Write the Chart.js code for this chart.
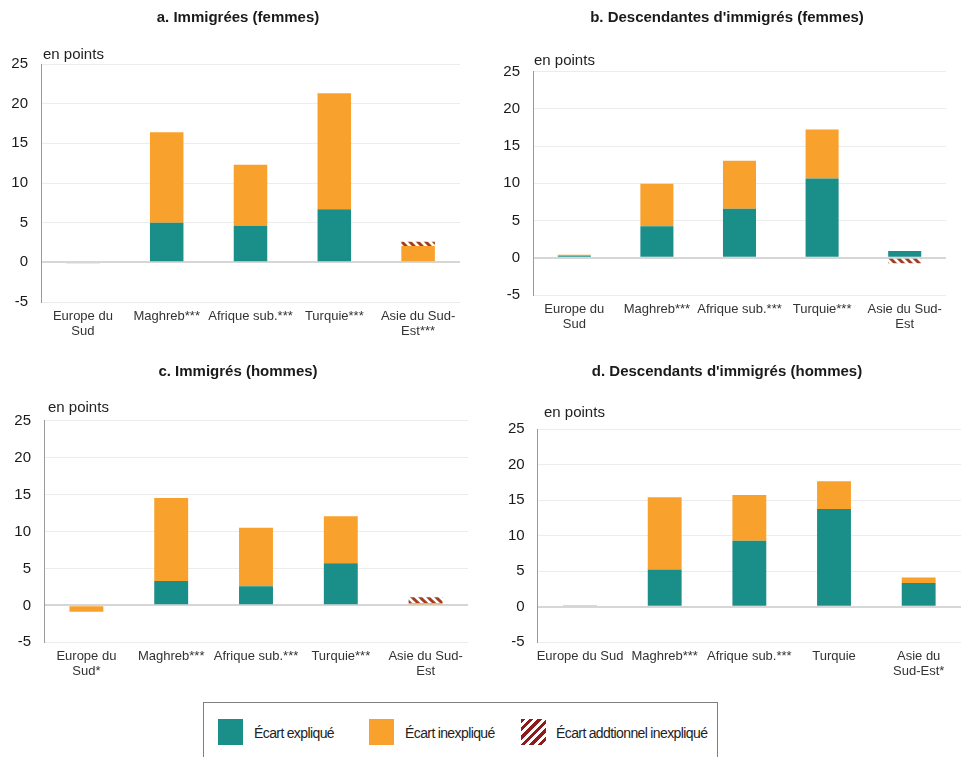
<!DOCTYPE html>
<html lang="fr">
<head>
<meta charset="utf-8">
<title>Écarts expliqués et inexpliqués</title>
<script src="https://cdn.jsdelivr.net/npm/chart.js@4.4.1/dist/chart.umd.min.js"></script>
<style>
  body { margin: 0; background: #fff; width: 961px; height: 757px; overflow: hidden; position: relative; font-family: "Liberation Sans", Arial, sans-serif; }
  canvas { position: absolute; }
  #legend { position: absolute; left: 203px; top: 702px; width: 513px; height: 70px; border: 1px solid #7f7f7f; }
  .sw { position: absolute; top: 16px; width: 25px; height: 26px; }
  .lab { position: absolute; top: 22px; font: 14px "Liberation Sans", Arial, sans-serif; letter-spacing: -0.6px; word-spacing: -0.3px; color: #222; white-space: nowrap; }
</style>
</head>
<body>
<canvas id="chartA" width="480" height="345" style="left:0;top:0"></canvas>
<canvas id="chartB" width="481" height="345" style="left:480px;top:0"></canvas>
<canvas id="chartC" width="480" height="345" style="left:0;top:345px"></canvas>
<canvas id="chartD" width="481" height="345" style="left:480px;top:345px"></canvas>

<div id="legend">
  <div class="sw" style="left:14px;background:#1a8e89"></div>
  <div class="lab" style="left:50px">Écart expliqué</div>
  <div class="sw" style="left:165px;background:#f8a12d"></div>
  <div class="lab" style="left:201px">Écart inexpliqué</div>
  <div class="sw" style="left:317px;background:repeating-linear-gradient(135deg,#8e1c1c 0 3px,#fff 3px 6px)"></div>
  <div class="lab" style="left:352px">Écart addtionnel inexpliqué</div>
</div>

<script>
// categories
const catsA = [["Europe du", "Sud"], "Maghreb***", "Afrique sub.***", "Turquie***", ["Asie du Sud-", "Est***"]];
const catsB = [["Europe du", "Sud"], "Maghreb***", "Afrique sub.***", "Turquie***", ["Asie du Sud-", "Est"]];
const catsC = [["Europe du", "Sud*"], "Maghreb***", "Afrique sub.***", "Turquie***", ["Asie du Sud-", "Est"]];
const catsD = ["Europe du Sud", "Maghreb***", "Afrique sub.***", "Turquie", ["Asie du", "Sud-Est*"]];

// a. Immigrées (femmes)
const explA = [0, 5.0, 4.6, 6.7, 0];
const unexA = [-0.15, 11.4, 7.7, 14.6, 2.05];
const addA = [null, null, null, null, 0.55];

// b. Descendantes d'immigrés (femmes)
const explB = [0.27, 4.25, 6.6, 10.65, 0.9];
const unexB = [0.13, 5.7, 6.45, 6.6, 0];
const addB = [null, null, null, null, -0.75];

// c. Immigrés (hommes)
const explC = [0, 3.3, 2.6, 5.7, 0];
const unexC = [-0.85, 11.25, 7.9, 6.35, 0.3];
const addC = [null, null, null, null, 0.8];

// d. Descendants d'immigrés (hommes)
const explD = [0, 5.25, 9.3, 13.75, 3.35];
const unexD = [0.2, 10.15, 6.4, 3.9, 0.75];
const addD = [null, null, null, null, null];

const yTicks = [-5, 0, 5, 10, 15, 20, 25];

const TEAL = "#1a8e89";
const ORANGE = "#f8a12d";
const FONT = "'Liberation Sans', Arial, sans-serif";

function makeHatch() {
    const c = document.createElement("canvas");
    c.width = 8;
    c.height = 8;
    const g = c.getContext("2d");
    g.fillStyle = "#fff";
    g.fillRect(0, 0, 8, 8);
    g.strokeStyle = "#a33d1f";
    g.lineWidth = 3;
    g.beginPath();
    g.moveTo(-2, -2); g.lineTo(10, 10);
    g.moveTo(-10, -2); g.lineTo(2, 10);
    g.moveTo(6, -2); g.lineTo(18, 10);
    g.stroke();
    return g.createPattern(c, "repeat");
}
const hatch = makeHatch();

// panel title + "en points" unit label
const panelText = {
    id: "panelText",
    afterDraw(chart, args, opts) {
        const { ctx, chartArea } = chart;
        ctx.save();
        ctx.textBaseline = "middle";
        ctx.fillStyle = "#1a1a1a";
        ctx.font = "bold 15px " + FONT;
        ctx.textAlign = "center";
        ctx.fillText(opts.title, opts.tx, opts.ty);
        ctx.font = "15px " + FONT;
        ctx.fillStyle = "#222";
        ctx.textAlign = "left";
        ctx.fillText("en points", chartArea.left + opts.ux, chartArea.top + opts.uy);
        ctx.restore();
    }
};

function buildChart(id, title, cats, expl, unex, add, lay) {
    const ctx = document.getElementById(id).getContext("2d");
    return new Chart(ctx, {
        type: "bar",
        data: {
            labels: cats,
            datasets: [
                { label: "Écart expliqué", data: expl, backgroundColor: TEAL },
                { label: "Écart inexpliqué", data: unex, backgroundColor: ORANGE },
                { label: "Écart addtionnel inexpliqué", data: add, backgroundColor: hatch }
            ]
        },
        plugins: [panelText],
        options: {
            responsive: false,
            animation: false,
            layout: { padding: { left: 0, right: lay.pr, top: lay.pt, bottom: lay.pb } },
            datasets: { bar: { categoryPercentage: 1, barPercentage: 0.4, borderWidth: 0 } },
            plugins: {
                legend: { display: false },
                tooltip: { enabled: false },
                title: { display: false },
                panelText: { title: title, tx: lay.tx, ty: lay.ty, ux: lay.ux, uy: lay.uy }
            },
            scales: {
                x: {
                    stacked: true,
                    grid: { display: false, drawTicks: false },
                    border: { display: false },
                    ticks: {
                        color: "#333",
                        font: { family: FONT, size: 13, lineHeight: 1.15 },
                        padding: 7,
                        maxRotation: 0,
                        autoSkip: false
                    },
                    afterFit: s => { s.height = 43; }
                },
                y: {
                    stacked: true,
                    min: yTicks[0],
                    max: yTicks[yTicks.length - 1],
                    afterBuildTicks: s => { s.ticks = yTicks.map(v => ({ value: v })); },
                    grid: {
                        drawTicks: false,
                        color: c => (c.tick && c.tick.value === 0 ? "#d6d6d6" : "#ececec"),
                        lineWidth: c => (c.tick && c.tick.value === 0 ? 2 : 1)
                    },
                    border: { display: true, color: "#9a9a9a", width: 1 },
                    ticks: {
                        color: "#1a1a1a",
                        font: { family: FONT, size: 15 },
                        padding: 13
                    },
                    afterFit: s => { s.width = lay.yw; }
                }
            }
        }
    });
}

buildChart("chartA", "a. Immigrées (femmes)", catsA, explA, unexA, addA,
    { yw: 41, pr: 20, pt: 64, pb: 0, tx: 238, ty: 18, ux: 2, uy: -9 });
buildChart("chartB", "b. Descendantes d'immigrés (femmes)", catsB, explB, unexB, addB,
    { yw: 53, pr: 15, pt: 71.7, pb: 7, tx: 247, ty: 18, ux: 1, uy: -10.7 });
buildChart("chartC", "c. Immigrés (hommes)", catsC, explC, unexC, addC,
    { yw: 44, pr: 12, pt: 75.7, pb: 4.7, tx: 238, ty: 26.7, ux: 4, uy: -13 });
buildChart("chartD", "d. Descendants d'immigrés (hommes)", catsD, explD, unexD, addD,
    { yw: 57.7, pr: 0, pt: 84, pb: 4.7, tx: 247, ty: 26.7, ux: 6.3, uy: -16.3 });
</script>
</body>
</html>
